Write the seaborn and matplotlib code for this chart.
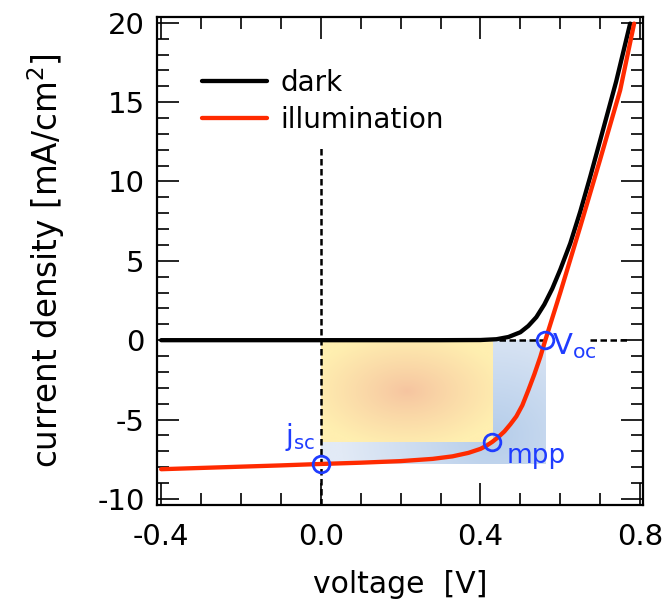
import numpy as np
import pandas as pd
import matplotlib
matplotlib.use('Agg')
import matplotlib.pyplot as plt
import seaborn as sns

# ---- data ----
dark_v = [-0.4, 0.3, 0.4, 0.44, 0.47, 0.5, 0.52, 0.54, 0.56, 0.58, 0.6, 0.625, 0.65, 0.675, 0.7, 0.74, 0.775]
dark_j = [0.0, 0.0, 0.01, 0.06, 0.2, 0.5, 0.9, 1.45, 2.25, 3.25, 4.45, 6.1, 8.1, 10.3, 12.6, 16.3, 19.95]

illum_v = [-0.4, -0.3, -0.2, -0.1, 0.0, 0.1, 0.2, 0.28, 0.33, 0.37, 0.40, 0.415, 0.43, 0.445, 0.46,
           0.475, 0.49, 0.505, 0.52, 0.535, 0.55, 0.5625, 0.6, 0.65, 0.7, 0.75, 0.785]
illum_j = [-8.13, -8.05, -7.97, -7.89, -7.80, -7.72, -7.62, -7.48, -7.32, -7.10, -6.85, -6.65, -6.40, -6.10, -5.75,
           -5.30, -4.80, -4.10, -3.15, -2.15, -1.05, 0.0, 3.0, 7.15, 11.4, 15.75, 19.95]

series_names = ['dark', 'illumination']
v_oc, j_oc = 0.5625, 0.0
v_sc, j_sc = 0.0, -7.8
v_mpp, j_mpp = 0.43, -6.4

x_ticks = [-0.4, 0.0, 0.4, 0.8]
x_tick_labels = ['-0.4', '0.0', '0.4', '0.8']
y_ticks = [-10, -5, 0, 5, 10, 15, 20]
y_tick_labels = ['-10', '-5', '0', '5', '10', '15', '20']

df = pd.concat([
    pd.DataFrame({'voltage': dark_v, 'current': dark_j, 'series': series_names[0]}),
    pd.DataFrame({'voltage': illum_v, 'current': illum_j, 'series': series_names[1]}),
], ignore_index=True)

sns.set_theme(style='ticks')
plt.rcParams['font.family'] = ['DejaVu Sans']
plt.rcParams['mathtext.fontset'] = 'dejavusans'
plt.rcParams['text.color'] = 'black'
plt.rcParams['axes.labelcolor'] = 'black'
plt.rcParams['xtick.color'] = 'black'
plt.rcParams['ytick.color'] = 'black'

RED = '#ff2a00'
BLUE = '#1f3cff'

fig = plt.figure(figsize=(6.63, 6.15), dpi=100)
ax = fig.add_axes([0.237, 0.179, 0.733, 0.793])

xlim = (-0.41, 0.8075)
ylim = (-10.38, 20.35)

# gradient rectangles
ny, nx = 120, 200
# blue rectangle: 0..Voc, Jsc..0
gx, gy = np.meshgrid(np.linspace(v_sc, v_oc, nx), np.linspace(0, j_sc, ny))
d = np.sqrt(((gx - 0.43) / 0.38) ** 2 + ((gy - (-6.0)) / 8.0) ** 2)
t = np.clip(d, 0, 1)[..., None]
c0 = np.array([181, 205, 234]) / 255.0
c1 = np.array([226, 234, 246]) / 255.0
img_b = c0 * (1 - t) + c1 * t
ax.imshow(img_b, extent=[v_sc, v_oc, j_sc, 0], origin='upper', aspect='auto',
          interpolation='bilinear', zorder=1)

# yellow rectangle: 0..Vmpp, Jmpp..0
gx, gy = np.meshgrid(np.linspace(0, v_mpp, nx), np.linspace(0, j_mpp, ny))
cx, cy = v_mpp / 2, j_mpp / 2
d = np.sqrt(((gx - cx) / (v_mpp / 2)) ** 2 + ((gy - cy) / (-j_mpp / 2)) ** 2)
t = (np.clip(d / 1.15, 0, 1) ** 0.9)[..., None]
c0 = np.array([246, 196, 160]) / 255.0
c1 = np.array([255, 239, 176]) / 255.0
img_y = c0 * (1 - t) + c1 * t
ax.imshow(img_y, extent=[0, v_mpp, j_mpp, 0], origin='upper', aspect='auto',
          interpolation='bilinear', zorder=2)

# dashed guide lines
dash_kw = dict(color='black', lw=1.8, dashes=(2.6, 1.4), zorder=3)
ax.plot([0, 0], [ylim[0], 12.2], **dash_kw)
ax.plot([0.4475, v_oc], [0, 0], **dash_kw)
ax.plot([0.675, 0.7725], [0, 0], **dash_kw)

sns.lineplot(data=df, x='voltage', y='current', hue='series', sort=False,
             palette={'dark': 'black', 'illumination': RED}, linewidth=3.1,
             estimator=None, ax=ax, zorder=4)

# special points
ax.plot([v_sc, v_mpp, v_oc], [j_sc, j_mpp, j_oc], linestyle='none', marker='o',
        markersize=12, markerfacecolor='none', markeredgecolor=BLUE, markeredgewidth=2.0, zorder=6)

ax.text(-0.013, -6.6, r'$\mathregular{j_{sc}}$', color=BLUE, fontsize=20, ha='right', va='baseline', zorder=7)
ax.text(0.466, -7.75, 'mpp', color=BLUE, fontsize=19, ha='left', va='baseline', zorder=7)
ax.text(0.578, -0.9, r'$\mathregular{V_{oc}}$', color=BLUE, fontsize=21, ha='left', va='baseline', zorder=7)

ax.set_xlim(*xlim)
ax.set_ylim(*ylim)
ax.set_xticks(x_ticks)
ax.set_xticklabels(x_tick_labels)
ax.set_yticks(y_ticks)
ax.set_yticklabels(y_tick_labels)
ax.xaxis.set_minor_locator(matplotlib.ticker.MultipleLocator(0.1))
ax.yaxis.set_minor_locator(matplotlib.ticker.MultipleLocator(1))
ax.tick_params(which='both', direction='in', top=True, right=True, color='black',
               labelcolor='black', width=1.2)
ax.tick_params(which='major', length=16, labelsize=21)
ax.tick_params(which='minor', length=8.5)
ax.tick_params(axis='x', which='major', pad=13)
ax.tick_params(axis='y', which='major', pad=9)
for s in ax.spines.values():
    s.set_linewidth(1.6)
    s.set_color('black')

ax.set_xlabel('voltage  [V]', fontsize=21.5, labelpad=14, color='black')
ax.set_ylabel(r'current density [mA/cm$^2$]', fontsize=23.5, labelpad=22, color='black')

leg = ax.legend(loc='upper left', bbox_to_anchor=(0.04, 0.945), frameon=False, fontsize=20,
                handlelength=2.35, handletextpad=0.5, labelspacing=0.33)
for line in leg.get_lines():
    line.set_linewidth(3.1)
for txt in leg.get_texts():
    txt.set_color('black')

fig.savefig('out.png', dpi=100)
